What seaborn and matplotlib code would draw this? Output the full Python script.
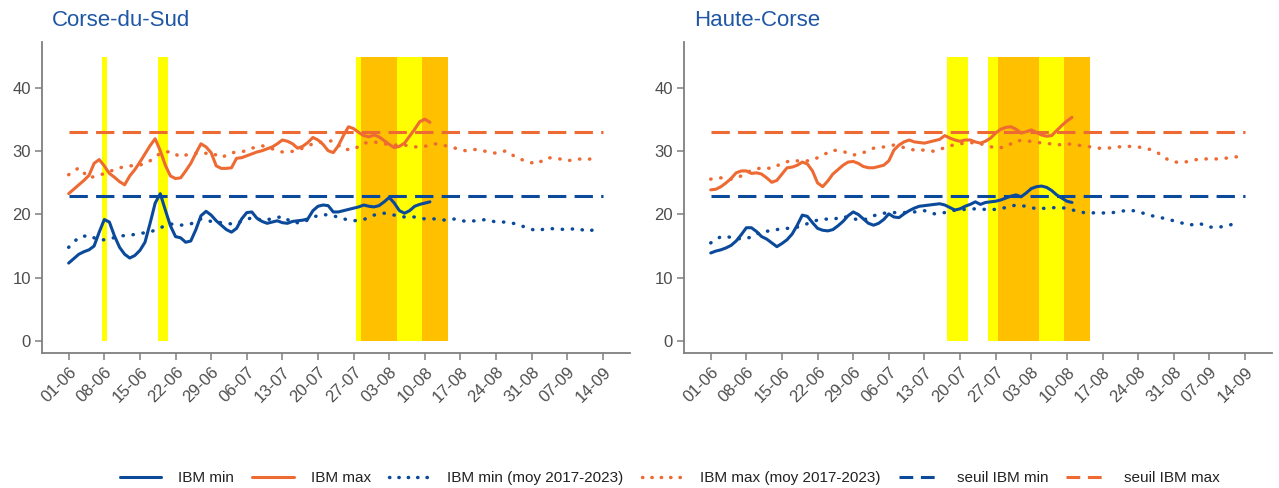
import numpy as np
import pandas as pd
import matplotlib
matplotlib.use('Agg')
import matplotlib.pyplot as plt
from matplotlib.lines import Line2D
import seaborn as sns

# --- data ---------------------------------------------------------------
# days counted from 1 June
tick_labels = ['01-06', '08-06', '15-06', '22-06', '29-06', '06-07', '13-07', '20-07',
               '27-07', '03-08', '10-08', '17-08', '24-08', '31-08', '07-09', '14-09']
tick_days = [0, 7, 14, 21, 28, 35, 42, 49, 56, 63, 70, 77, 84, 91, 98, 105]

days_obs = list(range(0, 72))        # observed IBM, 01-06 -> 11-08
days_moy = list(range(0, 105, 2))    # 2017-2023 mean, every 2 days

seuil_min = 23
seuil_max = 33
seuil_days = [0, 105]

# Corse-du-Sud
sud_max = [23.3, 24.0, 24.7, 25.4, 26.2, 28.1, 28.7, 27.7, 26.5, 25.9,
           25.2, 24.7, 26.1, 27.1, 28.3, 29.6, 30.9, 32.0, 30.1, 27.8,
           26.1, 25.7, 25.8, 26.9, 28.1, 29.7, 31.2, 30.7, 29.8, 27.7,
           27.3, 27.3, 27.4, 28.9, 29.0, 29.3, 29.6, 29.9, 30.1, 30.4,
           30.7, 31.2, 31.8, 31.6, 31.2, 30.5, 30.8, 31.4, 32.2, 31.8,
           31.1, 30.1, 29.8, 30.9, 32.5, 33.9, 33.6, 33.0, 32.5, 32.3,
           32.6, 32.3, 31.7, 31.1, 30.6, 30.8, 31.3, 32.4, 33.5, 34.7,
           35.1, 34.6]
sud_min = [12.3, 13.0, 13.7, 14.1, 14.4, 15.0, 17.2, 19.2, 18.8, 16.6,
           14.8, 13.7, 13.1, 13.5, 14.3, 15.6, 18.6, 21.8, 23.3, 20.7,
           18.2, 16.5, 16.3, 15.6, 15.8, 17.6, 19.8, 20.5, 19.9, 19.0,
           18.3, 17.6, 17.2, 17.8, 19.3, 20.3, 20.4, 19.4, 18.9, 18.6,
           18.8, 19.0, 18.7, 18.6, 18.9, 19.0, 19.1, 19.3, 20.6, 21.3,
           21.5, 21.4, 20.4, 20.4, 20.6, 20.8, 21.0, 21.2, 21.5, 21.3,
           21.2, 21.4, 22.0, 22.7, 21.8, 20.6, 20.2, 20.6, 21.3, 21.6,
           21.8, 22.0]
sud_moy_max = [26.3, 27.4, 25.8, 26.2, 26.8, 27.4, 27.7, 27.8, 28.5, 29.7,
               30.0, 29.1, 29.7, 29.6, 29.8, 29.0, 29.8, 29.9, 30.5, 30.9,
               30.4, 29.9, 30.0, 30.5, 31.2, 31.5, 31.7, 30.3, 30.3, 31.3,
               31.5, 31.2, 31.0, 31.0, 30.7, 30.8, 31.2, 30.9, 30.5, 30.1,
               30.3, 30.0, 29.7, 30.1, 29.0, 28.4, 28.0, 29.0, 28.9, 28.5,
               28.8, 28.7, 29.1]
sud_moy_min = [14.8, 16.4, 16.7, 15.9, 16.1, 16.6, 16.7, 17.0, 17.2, 17.9,
               18.5, 18.3, 18.5, 19.3, 18.9, 18.7, 18.5, 18.9, 19.5, 19.1,
               19.3, 19.7, 18.7, 18.7, 19.6, 20.0, 19.8, 19.3, 19.0, 19.2,
               19.9, 20.2, 19.9, 19.6, 19.6, 19.3, 19.3, 19.1, 19.3, 18.9,
               19.0, 19.2, 18.8, 18.8, 18.5, 17.9, 17.4, 17.8, 17.7, 17.6,
               17.8, 17.3, 17.8]
# vigilance periods (start day, end day, level)
sud_bands = [(6.5, 7.5, 'jaune'), (17.5, 19.5, 'jaune'), (56.5, 57.5, 'jaune'),
             (57.5, 64.5, 'orange'), (64.5, 69.5, 'jaune'), (69.5, 74.5, 'orange')]

# Haute-Corse
hc_max = [23.9, 24.0, 24.4, 25.0, 25.7, 26.6, 26.9, 26.9, 26.5, 26.6,
          26.4, 25.8, 25.1, 25.4, 26.4, 27.4, 27.5, 27.8, 28.3, 28.0,
          26.9, 25.0, 24.4, 25.3, 26.4, 27.1, 27.8, 28.3, 28.4, 28.1,
          27.6, 27.4, 27.4, 27.6, 27.8, 28.5, 30.2, 31.0, 31.5, 31.8,
          31.5, 31.4, 31.3, 31.5, 31.7, 31.9, 32.5, 32.1, 31.8, 31.6,
          31.8, 31.8, 31.5, 31.3, 31.6, 32.1, 32.9, 33.5, 33.8, 33.9,
          33.5, 32.9, 33.1, 33.4, 33.0, 32.6, 32.4, 32.5, 33.3, 34.1,
          34.8, 35.4]
hc_min = [13.9, 14.2, 14.4, 14.7, 15.1, 15.8, 16.8, 17.9, 17.9, 17.3,
          16.5, 16.1, 15.5, 14.9, 15.4, 16.0, 16.9, 18.3, 19.9, 19.7,
          18.7, 17.8, 17.5, 17.4, 17.6, 18.2, 18.9, 19.8, 20.4, 20.0,
          19.3, 18.6, 18.3, 18.6, 19.2, 20.1, 19.6, 19.5, 20.1, 20.6,
          21.0, 21.3, 21.4, 21.5, 21.6, 21.7, 21.5, 21.1, 20.7, 20.9,
          21.3, 21.6, 22.0, 21.6, 21.9, 22.0, 22.1, 22.3, 22.6, 22.9,
          23.1, 22.8, 23.4, 24.1, 24.4, 24.5, 24.3, 23.8, 23.1, 22.6,
          22.1, 21.9]
hc_moy_max = [25.6, 25.8, 25.6, 26.1, 27.0, 27.4, 27.3, 28.1, 28.6, 28.4,
              28.6, 29.4, 30.2, 30.0, 29.4, 29.8, 30.5, 30.7, 31.0, 30.6,
              30.2, 30.2, 30.0, 30.6, 31.1, 31.3, 31.4, 31.0, 30.5, 30.7,
              31.7, 31.7, 31.4, 31.3, 31.0, 31.2, 31.0, 30.8, 30.5, 30.5,
              30.7, 30.8, 30.7, 30.4, 29.7, 28.6, 28.2, 28.4, 28.8, 28.8,
              28.8, 29.0, 29.2]
hc_moy_min = [15.5, 16.5, 16.4, 16.1, 16.4, 17.3, 17.4, 17.8, 17.8, 18.2,
              18.9, 19.3, 19.2, 19.7, 19.3, 19.1, 19.8, 20.2, 20.3, 20.3,
              20.4, 20.6, 20.1, 20.3, 20.7, 20.8, 20.9, 20.8, 20.8, 21.1,
              21.5, 21.3, 20.9, 21.0, 21.1, 21.0, 20.5, 20.2, 20.3, 20.2,
              20.4, 20.7, 20.5, 19.9, 19.6, 19.2, 18.8, 18.3, 18.6, 18.0,
              18.0, 18.3, 19.0]
hc_bands = [(46.5, 50.5, 'jaune'), (54.5, 56.5, 'jaune'), (56.5, 64.5, 'orange'),
            (64.5, 69.5, 'jaune'), (69.5, 74.5, 'orange')]

# --- style --------------------------------------------------------------
BLUE = '#0B4A9B'
ORANGE = '#EE6A33'
band_colors = {'jaune': '#FFFF00', 'orange': '#FFC000'}
GREY = '#7F7F7F'
TXT = '#4D4D4D'

sns.set_style('white')
plt.rcParams['font.family'] = ['Liberation Sans', 'DejaVu Sans']

LW = 2.2
DOT_LW = 2.5
DASH = (0, (6, 2.7))
DOT = (0, (0.1, 2.8))

fig = plt.figure(figsize=(12.79, 4.88), dpi=100)
ax1 = fig.add_axes([0.0328, 0.2766, 0.4595, 0.637])
ax2 = fig.add_axes([0.5348, 0.2766, 0.4595, 0.637])

panels = [
    (ax1, 'Corse-du-Sud', sud_min, sud_max, sud_moy_min, sud_moy_max, sud_bands),
    (ax2, 'Haute-Corse', hc_min, hc_max, hc_moy_min, hc_moy_max, hc_bands),
]

for ax, title, ibm_min, ibm_max, moy_min, moy_max, bands in panels:
    # vigilance bands
    for start, end, level in bands:
        ax.fill_between([start, end], 0, 45, color=band_colors[level], lw=0, zorder=1)

    obs = pd.DataFrame({'jour': days_obs, 'min': ibm_min, 'max': ibm_max})
    moy = pd.DataFrame({'jour': days_moy, 'min': moy_min, 'max': moy_max})

    sns.lineplot(data=moy, x='jour', y='min', ax=ax, color=BLUE, lw=DOT_LW,
                 linestyle=DOT, dash_capstyle='round', zorder=3)
    sns.lineplot(data=moy, x='jour', y='max', ax=ax, color=ORANGE, lw=DOT_LW,
                 linestyle=DOT, dash_capstyle='round', zorder=3)
    sns.lineplot(x=seuil_days, y=[seuil_min] * 2, ax=ax, color=BLUE, lw=2.2,
                 linestyle=DASH, zorder=3)
    sns.lineplot(x=seuil_days, y=[seuil_max] * 2, ax=ax, color=ORANGE, lw=2.2,
                 linestyle=DASH, zorder=3)
    sns.lineplot(data=obs, x='jour', y='min', ax=ax, color=BLUE, lw=LW, zorder=4)
    sns.lineplot(data=obs, x='jour', y='max', ax=ax, color=ORANGE, lw=LW, zorder=4)

    ax.set_xlim(-5.25, 110.25)
    ax.set_ylim(-1.95, 47.3)
    ax.set_xticks(tick_days)
    ax.set_xticklabels(tick_labels, rotation=45, ha='right', rotation_mode='anchor')
    ax.set_yticks([0, 10, 20, 30, 40])
    ax.set_xlabel('')
    ax.set_ylabel('')
    sns.despine(ax=ax)
    for s in ['left', 'bottom']:
        ax.spines[s].set_color(GREY)
        ax.spines[s].set_linewidth(1.3)
    ax.tick_params(axis='both', which='both', length=5, width=1.1, color=GREY,
                   labelcolor=TXT, labelsize=12, direction='out', pad=3,
                   bottom=True, left=True)
    ax.text(0.017, 1.07, title, transform=ax.transAxes, fontsize=16,
            color='#1F56A5', ha='left', va='center')

handles = [
    Line2D([], [], color=BLUE, lw=LW),
    Line2D([], [], color=ORANGE, lw=LW),
    Line2D([], [], color=BLUE, lw=DOT_LW, linestyle=(0, (0.1, 2.6)), dash_capstyle='round'),
    Line2D([], [], color=ORANGE, lw=DOT_LW, linestyle=(0, (0.1, 2.6)), dash_capstyle='round'),
    Line2D([], [], color=BLUE, lw=2.2, linestyle=(0, (4.5, 2.5))),
    Line2D([], [], color=ORANGE, lw=2.2, linestyle=(0, (4.5, 2.5))),
]
labels = ['IBM min', 'IBM max', 'IBM min (moy 2017-2023)', 'IBM max (moy 2017-2023)',
          'seuil IBM min', 'seuil IBM max']
fig.legend(handles, labels, loc='center', bbox_to_anchor=(0.524, 0.02), ncol=6,
           frameon=False, fontsize=11, handlelength=2.7, handletextpad=1.1,
           columnspacing=1.2, labelcolor='#222222')

fig.savefig('out.png', dpi=100)
